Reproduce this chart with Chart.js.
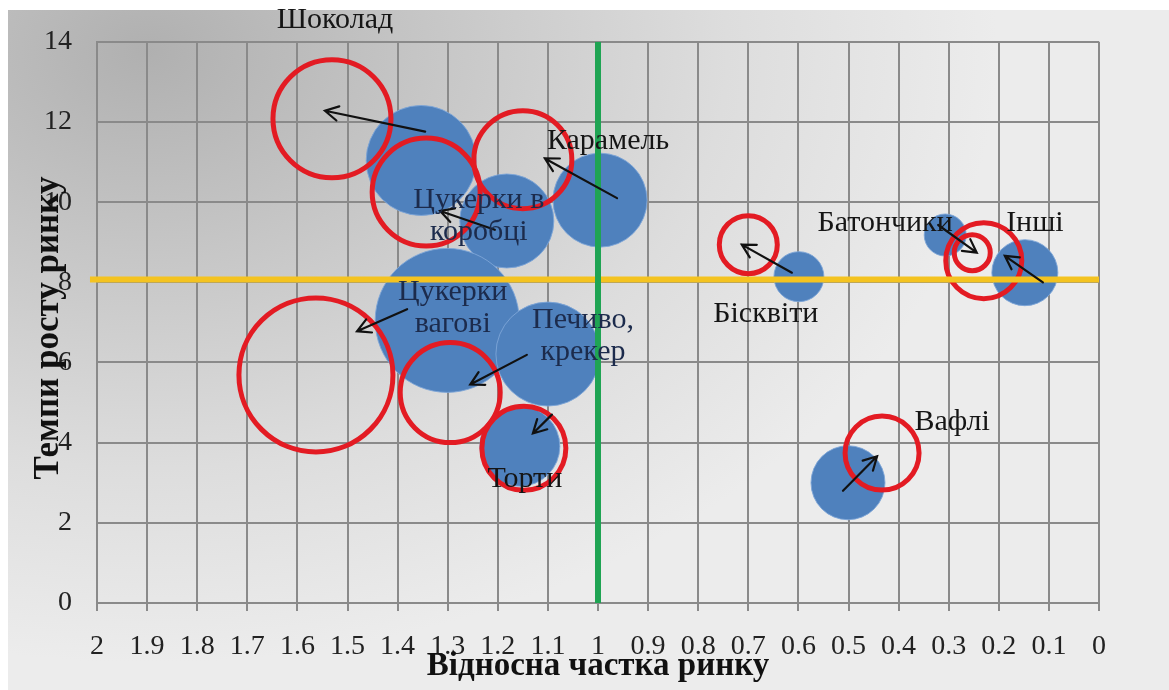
<!DOCTYPE html>
<html lang="uk">
<head>
<meta charset="UTF-8">
<title>Темпи росту ринку / Відносна частка ринку</title>
<script src="https://cdn.jsdelivr.net/npm/chart.js"></script>
<style>
  html, body { margin: 0; padding: 0; background: #fff; }
  #wrap { position: relative; width: 1169px; height: 690px; overflow: hidden; }
  #bg {
    position: absolute; left: 8px; top: 10px; right: 0; bottom: 0;
    background: radial-gradient(ellipse 1000px 720px at 12% 6%, #b0b0b0 0%, #c6c6c6 28%, #dddddd 58%, #ececec 85%);
  }
  canvas { position: absolute; left: 0; top: 0; }
</style>
</head>
<body>
<div id="wrap">
  <div id="bg"></div>
  <canvas id="bcg" width="1169" height="690"></canvas>
</div>

<script>
// categories (products)
const products = ['Шоколад', 'Цукерки в коробці', 'Карамель', 'Цукерки вагові', 'Печиво, крекер',
                  'Торти', 'Бісквіти', 'Батончики', 'Інші', 'Вафлі'];

// current position (blue bubbles): relative share, growth rate, bubble size
const curShare  = [1.353, 1.182, 0.996, 1.301, 1.10, 1.156, 0.599, 0.307, 0.148, 0.501];
const curGrowth = [11.04, 9.53, 10.05, 7.05, 6.21, 3.91, 8.14, 9.18, 8.24, 3.00];
const curSize   = [55, 47, 47, 72, 52, 40, 25, 21, 33, 37];

// forecast position (red rings)
const newShare  = [1.531, 1.343, 1.150, 1.563, 1.295, 1.148, 0.700, 0.253, 0.230, 0.433];
const newGrowth = [12.08, 10.25, 11.06, 5.69, 5.25, 3.86, 8.94, 8.74, 8.54, 3.74];
const newSize   = [59, 54, 49, 77, 50, 42, 29, 18, 38, 37];

// arrows (start -> end), in axis units
const arrowFromX = [1.345, 1.206, 0.962, 1.381, 1.142, 1.092, 0.613, 0.321, 0.112, 0.511];
const arrowFromY = [11.76, 9.31, 10.10, 7.33, 6.19, 4.70, 8.24, 9.43, 8.00, 2.80];
const arrowToX   = [1.545, 1.315, 1.106, 1.481, 1.255, 1.130, 0.713, 0.244, 0.188, 0.443];
const arrowToY   = [12.28, 9.78, 11.09, 6.78, 5.45, 4.23, 8.94, 8.74, 8.66, 3.66];

// label text and anchor (axis units)
const labelLines = [['Шоколад'], ['Цукерки в', 'коробці'], ['Карамель'], ['Цукерки', 'вагові'],
                    ['Печиво,', 'крекер'], ['Торти'], ['Бісквіти'], ['Батончики'], ['Інші'], ['Вафлі']];
const labelX = [1.525, 1.238, 0.980, 1.290, 1.030, 1.146, 0.665, 0.427, 0.128, 0.293];
const labelY = [14.55, 10.05, 11.53, 7.75, 7.05, 3.09, 7.20, 9.48, 9.48, 4.50];

// reference lines
const shareDivider = 1;      // vertical
const growthDivider = 8.07;  // horizontal

// tick labels
const xTickLabels = ['0', '0.1', '0.2', '0.3', '0.4', '0.5', '0.6', '0.7', '0.8', '0.9', '1',
                     '1.1', '1.2', '1.3', '1.4', '1.5', '1.6', '1.7', '1.8', '1.9', '2'];
const yTickLabels = ['0', '2', '4', '6', '8', '10', '12', '14'];

const serif = "'Liberation Serif', 'Times New Roman', serif";

const blueData = products.map((p, i) => ({ x: curShare[i], y: curGrowth[i], r: curSize[i] }));
const redData  = products.map((p, i) => ({ x: newShare[i], y: newGrowth[i], r: newSize[i] }));

function drawArrow(ctx, x1, y1, x2, y2) {
  const ang = Math.atan2(y2 - y1, x2 - x1);
  const head = 15, spread = 0.5;
  ctx.beginPath();
  ctx.moveTo(x1, y1);
  ctx.lineTo(x2, y2);
  ctx.moveTo(x2 - head * Math.cos(ang - spread), y2 - head * Math.sin(ang - spread));
  ctx.lineTo(x2, y2);
  ctx.lineTo(x2 - head * Math.cos(ang + spread), y2 - head * Math.sin(ang + spread));
  ctx.stroke();
}

const overlay = {
  id: 'overlay',
  afterDatasetsDraw(chart) {
    const { ctx, scales: { x, y } } = chart;
    ctx.save();
    // arrows
    ctx.strokeStyle = '#111';
    ctx.lineWidth = 2.2;
    ctx.lineCap = 'round';
    for (let i = 0; i < products.length; i++) {
      drawArrow(ctx,
        x.getPixelForValue(arrowFromX[i]), y.getPixelForValue(arrowFromY[i]),
        x.getPixelForValue(arrowToX[i]), y.getPixelForValue(arrowToY[i]));
    }
    // labels
    ctx.font = '30px ' + serif;
    ctx.textAlign = 'center';
    ctx.textBaseline = 'middle';
    const navy = [1, 3, 4];
    for (let i = 0; i < products.length; i++) {
      ctx.fillStyle = navy.includes(i) ? '#1c2b4c' : '#151515';
      const px = x.getPixelForValue(labelX[i]);
      const py = y.getPixelForValue(labelY[i]);
      labelLines[i].forEach((t, k) => ctx.fillText(t, px, py + k * 32));
    }
    ctx.restore();
  },
  afterDraw(chart) {
    const { ctx, chartArea: a } = chart;
    ctx.save();
    ctx.fillStyle = '#111';
    ctx.textAlign = 'center';
    ctx.textBaseline = 'middle';
    ctx.font = 'bold 33px ' + serif;
    ctx.fillText('Відносна частка ринку', (a.left + a.right) / 2, 666);
    ctx.font = 'bold 35px ' + serif;
    ctx.translate(49, 328);
    ctx.rotate(-Math.PI / 2);
    ctx.fillText('Темпи росту ринку', 0, 0);
    ctx.restore();
  }
};

new Chart(document.getElementById('bcg').getContext('2d'), {
  type: 'bubble',
  data: {
    datasets: [
      {
        label: 'Межа частки',
        type: 'line',
        data: [{ x: shareDivider, y: 0 }, { x: shareDivider, y: 14 }],
        borderColor: '#1fa453',
        borderWidth: 6,
        pointRadius: 0,
        order: 0
      },
      {
        label: 'Межа росту',
        type: 'line',
        data: [{ x: 2.014, y: growthDivider }, { x: 0, y: growthDivider }],
        borderColor: '#f4c320',
        borderWidth: 6,
        pointRadius: 0,
        clip: false,
        order: 0
      },
      {
        label: 'Прогноз',
        data: redData,
        backgroundColor: 'rgba(0,0,0,0)',
        borderColor: '#e31b23',
        borderWidth: 5,
        clip: false,
        order: 1
      },
      {
        label: 'Поточний стан',
        data: blueData,
        backgroundColor: '#4f81bd',
        borderColor: 'rgba(125,165,215,0.9)',
        borderWidth: 1,
        clip: false,
        order: 2
      }
    ]
  },
  options: {
    responsive: false,
    animation: false,
    events: [],
    layout: { autoPadding: false, padding: { top: 36, right: 70, left: 0, bottom: 0 } },
    plugins: { legend: { display: false }, tooltip: { enabled: false } },
    scales: {
      x: {
        type: 'linear',
        reverse: true,
        min: 0,
        max: 2,
        afterBuildTicks: s => { s.ticks = xTickLabels.map(v => ({ value: parseFloat(v) })); },
        afterFit: s => { s.height = 87; },
        ticks: {
          callback: (v) => xTickLabels.find(l => parseFloat(l) === v) ?? '',
          font: { family: serif, size: 28 },
          color: '#222',
          padding: 19,
          maxRotation: 0,
          autoSkip: false
        },
        grid: { color: '#8a8a8a', lineWidth: 2, tickLength: 8, drawTicks: true },
        border: { color: '#8a8a8a', width: 2 }
      },
      y: {
        min: 0,
        max: 14,
        afterBuildTicks: s => { s.ticks = yTickLabels.map(v => ({ value: parseFloat(v) })); },
        afterFit: s => { s.width = 97; },
        ticks: {
          font: { family: serif, size: 28 },
          color: '#222',
          padding: 25
        },
        grid: { color: '#8a8a8a', lineWidth: 2, drawTicks: false },
        border: { color: '#8a8a8a', width: 2 }
      }
    }
  },
  plugins: [overlay]
});
</script>
</body>
</html>
